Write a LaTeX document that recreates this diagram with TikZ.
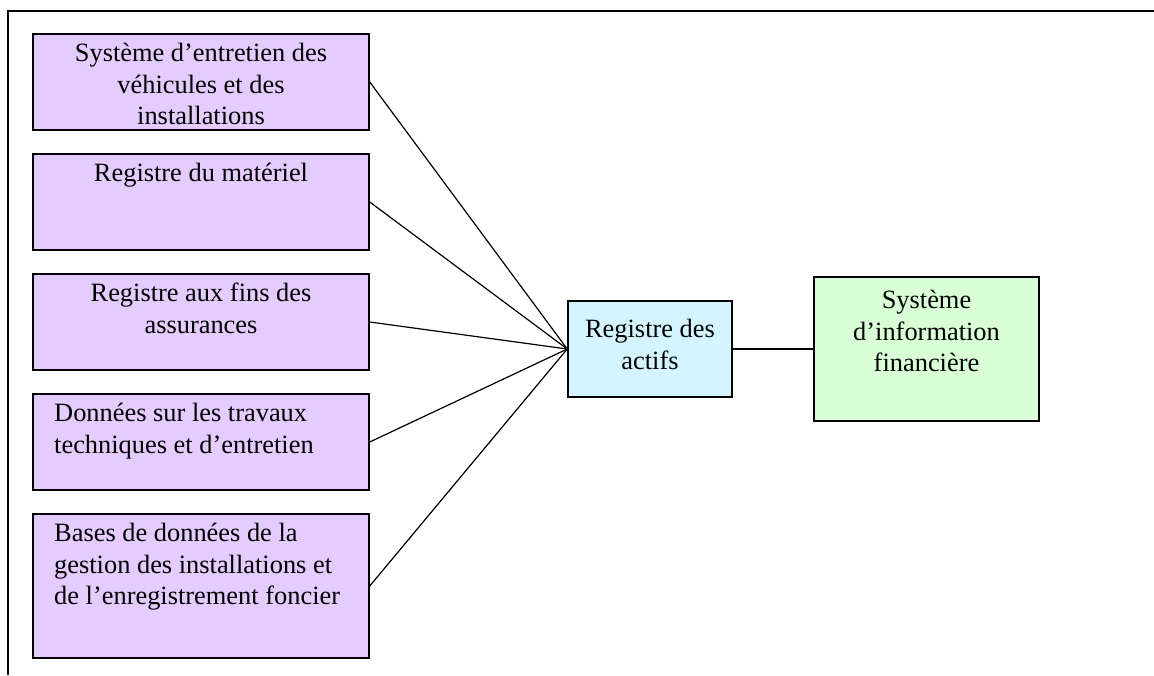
\documentclass[tikz,border=0pt]{standalone}
\usepackage{fontspec}
\setmainfont{Liberation Serif}
\definecolor{lav}{RGB}{228,204,255}
\definecolor{lblue}{RGB}{212,245,255}
\definecolor{lgreen}{RGB}{218,255,214}
\begin{document}
\begin{tikzpicture}[x=1pt,y=-1pt,
  box/.style={draw=black, line width=1.5pt, inner sep=0pt, minimum width=#1},
  srcbox/.style={box=336pt, fill=lav, minimum height=96pt},
  txt/.style={inner sep=0pt, font=\fontsize{26.4}{31.5}\selectfont},
  link/.style={line width=1.2pt}]
\useasboundingbox (0,0) rectangle (1154,675);
\draw[line width=1.6pt] (8,675) -- (8,11) -- (1154,11);
% source boxes
\node[srcbox] (b1) at (201,82) {};
\node[srcbox] (b2) at (201,202) {};
\node[srcbox] (b3) at (201,322) {};
\node[srcbox] (b4) at (201,442) {};
\node[srcbox, minimum height=144pt] (b5) at (201,586) {};
\node[box=164pt, fill=lblue, minimum height=96pt] (reg) at (650,349) {};
\node[box=225pt, fill=lgreen, minimum height=144pt] (sys) at (926.5,349) {};
% texts
\node[txt, align=center, anchor=north] (b1t) at (201,43) {Système d’entretien des\\véhicules et des\\installations};
\node[txt, align=center, anchor=north] (b2t) at (201,163) {Registre du matériel};
\node[txt, align=center, anchor=north] (b3t) at (201,283) {Registre aux fins des\\assurances};
\node[txt, align=left, anchor=north west] (b4t) at (54,403) {Données sur les travaux\\techniques et d’entretien};
\node[txt, align=left, anchor=north west] (b5t) at (54,523) {Bases de données de la\\gestion des installations et\\de l’enregistrement foncier};
\node[txt, align=center, anchor=north] (regt) at (650,319) {Registre des\\actifs};
\node[txt, align=center, anchor=north] (syst) at (926.5,290) {Système\\d’information\\financière};
% connectors
\foreach \b in {b1,b2,b3,b4,b5}
  \draw[link] (\b.east) -- (reg.west);
\draw[link] (reg.east) -- (sys.west);
\end{tikzpicture}
\end{document}
